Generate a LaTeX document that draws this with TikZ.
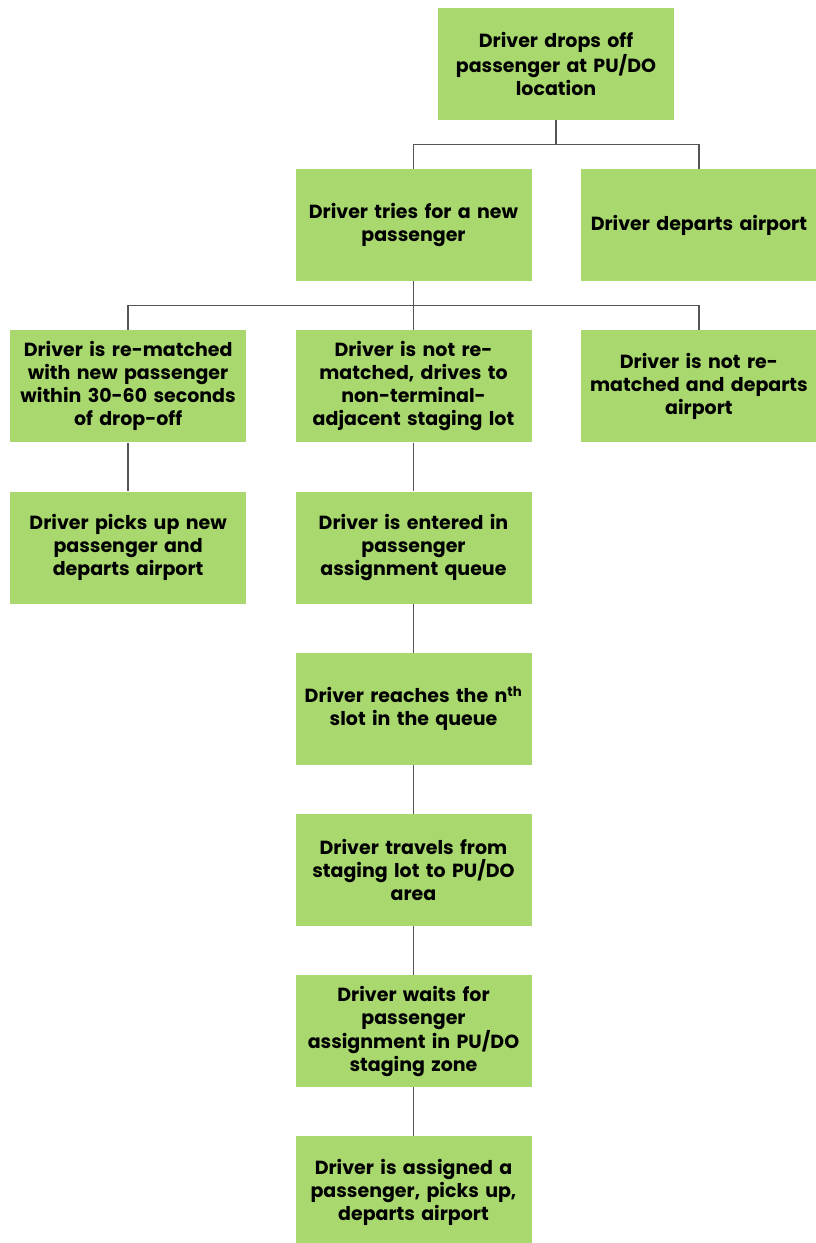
\documentclass[tikz,border=0pt]{standalone}
\usepackage{fontspec}
\setmainfont{Poppins}
\usepackage{tikz}
\usetikzlibrary{positioning,calc}
\definecolor{stepgreen}{HTML}{A9D96E}
\definecolor{linkgray}{HTML}{555555}
\tikzset{
    % Define style for boxes
    box/.style={
           fill=stepgreen,
           minimum width=236pt,
           minimum height=112pt,
           inner sep=2pt,
           text width=232pt,
           align=center,
           font=\fontsize{19}{23}\selectfont\bfseries},
    % Define connector style
    link/.style={
           draw=linkgray,
           line width=1.3pt}
}
\begin{document}
\begin{tikzpicture}[node distance=48.8pt and 49pt]
    \useasboundingbox (0pt,0pt) rectangle (815pt,-1243pt);
    % top of the tree
    \node[box](dropoff) at (556pt,-64pt){Driver drops off\\passenger at PU/DO\\location};
    \node[box, below=of dropoff, xshift=-142.5pt](tries){Driver tries for a new\\passenger};
    \node[box, right=of tries](departs){Driver departs airport};

    % second split
    \node[box, below=of tries](notmatched){Driver is not re-\\matched, drives to\\non-terminal-\\adjacent staging lot};
    \node[box, left=of notmatched](rematched){Driver is re-matched\\with new passenger\\within 30-60 seconds\\of drop-off};
    \node[box, right=of notmatched](leaves){Driver is not re-\\matched and departs\\airport};
    \node[box, below=of rematched](pickup){Driver picks up new\\passenger and\\departs airport};

    % queue path
    \node[box, below=of notmatched](queue){Driver is entered in\\passenger\\assignment queue};
    \node[box, below=of queue](slot){Driver reaches the n\textsuperscript{th}\\slot in the queue};
    \node[box, below=of slot](travel){Driver travels from\\staging lot to PU/DO\\area};
    \node[box, below=of travel](wait){Driver waits for\\passenger\\assignment in PU/DO\\staging zone};
    \node[box, below=of wait](assigned){Driver is assigned a\\passenger, picks up,\\departs airport};

    % junctions
    \coordinate (split1) at ($(dropoff.south)!0.5!(dropoff.south |- tries.north)$);
    \coordinate (split2) at ($(tries.south)!0.5!(tries.south |- notmatched.north)$);

    % edges
    \draw[link] (dropoff.south) -- (split1) -| (tries.north);
    \draw[link] (split1) -| (departs.north);
    \draw[link] (tries.south) -- (split2) -| (rematched.north);
    \draw[link] (split2) -| (leaves.north);
    \draw[link] (split2) -- (notmatched.north);
    \draw[link] (rematched) -- (pickup);
    \draw[link] (notmatched) -- (queue);
    \draw[link] (queue) -- (slot);
    \draw[link] (slot) -- (travel);
    \draw[link] (travel) -- (wait);
    \draw[link] (wait) -- (assigned);
\end{tikzpicture}
\end{document}
